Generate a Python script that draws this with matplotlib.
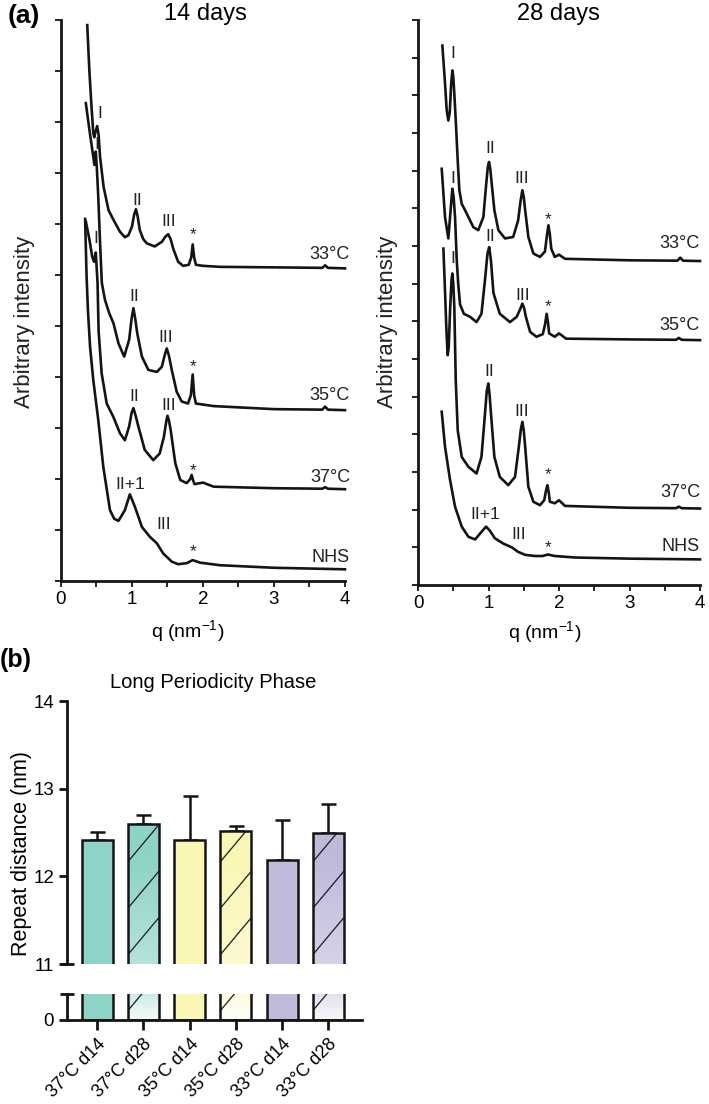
import numpy as np
import matplotlib
matplotlib.use('Agg')
import matplotlib.pyplot as plt
from matplotlib.collections import LineCollection
from matplotlib.patches import Rectangle

plt.rcParams['font.family'] = ['Liberation Sans', 'DejaVu Sans']
plt.rcParams['mathtext.fontset'] = 'custom'
plt.rcParams['mathtext.rm'] = 'Liberation Sans'
plt.rcParams['mathtext.it'] = 'Liberation Sans:italic'

# ---- (a) SAXS profiles, 14 days (offset intensities, arbitrary units) ----
q14_33 = [0.37, 0.40, 0.43, 0.455, 0.47, 0.485, 0.51, 0.53, 0.55, 0.60, 0.67, 0.74, 0.83, 0.90, 0.95,
          1.00, 1.03, 1.056, 1.08, 1.11, 1.16, 1.21, 1.32, 1.42, 1.47, 1.51, 1.545, 1.58, 1.65, 1.72,
          1.80, 1.835, 1.855, 1.875, 1.90, 2.00, 2.24, 3.00, 3.68, 3.72, 3.76, 4.00]
i14_33 = [10.9, 10.0, 9.3, 8.78, 8.70, 8.80, 8.92, 8.75, 8.32, 7.73, 7.27, 7.08, 6.85, 6.74, 6.78,
          6.95, 7.18, 7.29, 7.15, 6.88, 6.70, 6.62, 6.56, 6.65, 6.75, 6.80, 6.70, 6.52, 6.26, 6.18,
          6.20, 6.35, 6.60, 6.35, 6.20, 6.18, 6.16, 6.15, 6.14, 6.19, 6.14, 6.13]

q14_35 = [0.35, 0.40, 0.455, 0.47, 0.49, 0.505, 0.525, 0.55, 0.575, 0.62, 0.68, 0.74, 0.81, 0.89, 0.96,
          0.995, 1.02, 1.045, 1.075, 1.14, 1.23, 1.35, 1.42, 1.465, 1.49, 1.52, 1.56, 1.63, 1.70, 1.79,
          1.83, 1.855, 1.875, 1.90, 2.00, 2.15, 3.00, 3.68, 3.72, 3.76, 4.00]
i14_35 = [9.37, 8.85, 8.32, 8.16, 8.42, 8.10, 7.54, 6.65, 5.85, 5.51, 5.25, 5.05, 4.66, 4.40, 4.73,
          5.15, 5.35, 5.15, 4.85, 4.40, 4.14, 4.10, 4.20, 4.45, 4.56, 4.42, 4.14, 3.71, 3.52, 3.48,
          3.65, 4.05, 3.65, 3.48, 3.46, 3.43, 3.37, 3.36, 3.42, 3.36, 3.35]

q14_37 = [0.35, 0.40, 0.44, 0.465, 0.49, 0.50, 0.515, 0.53, 0.573, 0.644, 0.737, 0.83, 0.90, 0.96,
          0.995, 1.02, 1.05, 1.09, 1.18, 1.30, 1.39, 1.45, 1.485, 1.50, 1.52, 1.545, 1.61, 1.68, 1.77,
          1.82, 1.84, 1.86, 1.88, 2.00, 2.15, 3.00, 3.68, 3.72, 3.76, 4.00]
i14_37 = [7.05, 6.70, 6.36, 6.26, 6.44, 6.20, 5.85, 4.90, 4.07, 3.48, 3.22, 2.90, 2.76, 3.03,
          3.30, 3.39, 3.25, 3.03, 2.57, 2.37, 2.50, 2.83, 3.15, 3.24, 3.15, 2.96, 2.31, 1.98, 1.92,
          2.00, 2.08, 1.98, 1.90, 1.93, 1.85, 1.82, 1.81, 1.84, 1.81, 1.80]

q14_nhs = [0.34, 0.36, 0.38, 0.41, 0.455, 0.525, 0.596, 0.69, 0.75, 0.81, 0.90, 0.97, 1.04, 1.14,
           1.25, 1.35, 1.44, 1.56, 1.65, 1.77, 1.855, 1.96, 2.24, 3.00, 4.00]
i14_nhs = [7.10, 6.00, 5.30, 4.59, 3.94, 3.16, 2.24, 1.39, 1.22, 1.18, 1.39, 1.70, 1.46, 1.06,
           0.87, 0.74, 0.54, 0.38, 0.33, 0.35, 0.41, 0.36, 0.31, 0.26, 0.23]

# ---- (a) SAXS profiles, 28 days ----
q28_33 = [0.345, 0.38, 0.407, 0.43, 0.45, 0.47, 0.487, 0.50, 0.515, 0.54, 0.563, 0.586, 0.62, 0.667,
          0.714, 0.785, 0.855, 0.927, 0.965, 0.99, 1.007, 1.025, 1.045, 1.083, 1.14, 1.234, 1.35, 1.42,
          1.455, 1.48, 1.50, 1.52, 1.565, 1.636, 1.73, 1.80, 1.83, 1.85, 1.87, 1.89, 1.94, 2.00,
          2.085, 3.00, 3.68, 3.72, 3.76, 4.00]
i28_33 = [14.32, 13.4, 12.6, 12.33, 12.55, 13.3, 13.66, 13.5, 13.04, 12.16, 11.27, 10.48, 10.12, 9.95,
          9.77, 9.50, 9.42, 9.77, 10.6, 11.1, 11.23, 11.05, 10.66, 9.95, 9.42, 9.20, 9.24, 9.68,
          10.2, 10.48, 10.3, 9.95, 9.24, 8.80, 8.71, 8.85, 9.3, 9.55, 9.3, 8.93, 8.71, 8.77,
          8.66, 8.62, 8.61, 8.69, 8.61, 8.60]

q28_35 = [0.336, 0.383, 0.43, 0.46, 0.487, 0.505, 0.525, 0.55, 0.57, 0.596, 0.65, 0.738, 0.83, 0.90,
          0.95, 0.985, 1.01, 1.035, 1.07, 1.16, 1.305, 1.40, 1.455, 1.48, 1.505, 1.53, 1.59, 1.68,
          1.77, 1.80, 1.825, 1.845, 1.86, 1.94, 2.00, 2.10, 3.00, 3.66, 3.70, 3.74, 4.00]
i28_35 = [11.05, 9.77, 9.20, 9.90, 10.52, 10.3, 9.77, 8.6, 8.0, 7.45, 7.2, 7.12, 6.98, 7.2,
          8.1, 8.8, 8.97, 8.6, 7.75, 7.2, 6.98, 7.12, 7.35, 7.47, 7.35, 7.12, 6.72, 6.59,
          6.66, 6.9, 7.2, 6.95, 6.68, 6.59, 6.68, 6.54, 6.52, 6.51, 6.56, 6.51, 6.50]

q28_37 = [0.36, 0.383, 0.40, 0.42, 0.435, 0.455, 0.475, 0.487, 0.50, 0.515, 0.535, 0.563, 0.62, 0.714,
          0.83, 0.90, 0.95, 0.975, 0.997, 1.015, 1.035, 1.083, 1.16, 1.28, 1.376, 1.43, 1.46, 1.48,
          1.50, 1.52, 1.565, 1.636, 1.73, 1.79, 1.815, 1.835, 1.855, 1.87, 1.94, 2.00, 2.085, 3.00,
          3.66, 3.70, 3.74, 4.00]
i28_37 = [8.93, 7.8, 6.9, 6.1, 6.3, 7.3, 8.1, 8.27, 8.0, 7.38, 5.44, 4.11, 3.40, 3.14,
          2.96, 3.40, 4.55, 5.15, 5.35, 5.05, 4.55, 3.40, 2.87, 2.65, 2.87, 3.67, 4.15, 4.33,
          4.1, 3.67, 2.61, 2.21, 2.12, 2.25, 2.5, 2.65, 2.45, 2.21, 2.17, 2.25, 2.10, 2.05,
          2.04, 2.08, 2.04, 2.03]

q28_nhs = [0.336, 0.383, 0.454, 0.525, 0.62, 0.714, 0.81, 0.90, 0.965, 1.02, 1.09, 1.21, 1.33, 1.42,
           1.52, 1.66, 1.77, 1.84, 1.94, 2.23, 3.00, 4.00]
i28_nhs = [4.60, 3.67, 2.79, 2.08, 1.55, 1.28, 1.21, 1.41, 1.55, 1.44, 1.24, 1.10, 1.00, 0.88,
           0.80, 0.77, 0.77, 0.81, 0.77, 0.73, 0.70, 0.68]

# peak annotations: (text, q, intensity)
peaks14 = [('I', 0.54, 9.17), ('II', 1.08, 7.47), ('III', 1.51, 7.05), ('*', 1.86, 6.80),
           ('I', 0.50, 8.55), ('II', 1.03, 5.57), ('III', 1.48, 4.78), ('*', 1.855, 4.20),
           ('I', 0.49, 6.72), ('II', 1.03, 3.61), ('III', 1.51, 3.45), ('*', 1.855, 2.17),
           ('II+1', 0.97, 1.90), ('III', 1.44, 1.10), ('*', 1.855, 0.58)]
peaks28 = [('I', 0.487, 14.1), ('II', 1.02, 11.58), ('III', 1.47, 10.79), ('*', 1.85, 9.69),
           ('I', 0.487, 10.79), ('II', 1.02, 9.24), ('III', 1.48, 7.69), ('*', 1.85, 7.39),
           ('I', 0.487, 8.67), ('II', 1.01, 5.66), ('III', 1.47, 4.60), ('*', 1.84, 2.93),
           ('II+1', 0.95, 1.86), ('III', 1.43, 1.34), ('*', 1.84, 0.99)]
temps14 = [('33°C', 6.41), ('35°C', 3.63), ('37°C', 2.03), ('NHS', 0.46)]
temps28 = [('33°C', 9.07), ('35°C', 6.90), ('37°C', 2.45), ('NHS', 1.02)]

# ---- (b) long periodicity phase repeat distance ----
groups = ['37°C d14', '37°C d28', '35°C d14', '35°C d28', '33°C d14', '33°C d28']
repeat_mean = [12.42, 12.60, 12.41, 12.52, 12.19, 12.50]
repeat_err = [0.09, 0.10, 0.51, 0.05, 0.45, 0.32]
bar_colors = ['#8dd3c7', '#8dd3c7', '#faf7b4', '#faf7b4', '#bebada', '#bebada']
hatched = [False, True, False, True, False, True]

LINE = '#141414'


def setup_saxs(ax, ymax):
    ax.set_xlim(0, 4)
    ax.set_ylim(0, ymax)
    for s in ['top', 'right']:
        ax.spines[s].set_visible(False)
    for s in ['left', 'bottom']:
        ax.spines[s].set_linewidth(2.0)
        ax.spines[s].set_color(LINE)
    ax.set_xticks(np.arange(0, 4.01, 0.5))
    ax.set_xticklabels(['0', '', '1', '', '2', '', '3', '', '4'])
    ax.set_yticks(np.arange(0, ymax + 1))
    ax.set_yticklabels([])
    ax.tick_params(length=4, width=1.3, labelsize=13.5, pad=3, color=LINE)
    ax.patch.set_alpha(0)


fig = plt.figure(figsize=(7.09, 11.04), dpi=100)

ax1 = fig.add_axes([0.0860, 0.4737, 0.4006, 0.5082])
ax2 = fig.add_axes([0.5896, 0.4701, 0.3977, 0.5118])
setup_saxs(ax1, 11)
setup_saxs(ax2, 15)

for q, i in [(q14_33, i14_33), (q14_35, i14_35), (q14_37, i14_37), (q14_nhs, i14_nhs)]:
    ax1.plot(q, i, color=LINE, lw=1.9, solid_joinstyle='round', clip_on=False)
for q, i in [(q28_33, i28_33), (q28_35, i28_35), (q28_37, i28_37), (q28_nhs, i28_nhs)]:
    ax2.plot(q, i, color=LINE, lw=1.9, solid_joinstyle='round', clip_on=False)

for ax, peaks, temps, xr in [(ax1, peaks14, temps14, 4.07), (ax2, peaks28, temps28, 4.0)]:
    for txt, q, y in peaks:
        ax.text(q, y, txt, ha='center', va='center', fontsize=12.5, color='#222222')
    for txt, y in temps:
        ax.text(xr, y, txt, ha='right', va='center', fontsize=13, color='#222222', clip_on=False)

ax1.set_ylabel('Arbitrary intensity', fontsize=16, color='#222222')
ax1.yaxis.set_label_coords(-0.0915, 0.4626)
ax2.set_ylabel('Arbitrary intensity', fontsize=16, color='#222222')
ax2.yaxis.set_label_coords(-0.071, 0.466)
ax1.text(0.447, -0.09, r'q (nm$^{-1}$)', transform=ax1.transAxes, ha='center', va='center', fontsize=14)
ax2.text(0.45, -0.083, r'q (nm$^{-1}$)', transform=ax2.transAxes, ha='center', va='center', fontsize=14)

fig.text(205 / 709, 1 - 14 / 1104, '14 days', ha='center', va='center', fontsize=17)
fig.text(558 / 709, 1 - 14 / 1104, '28 days', ha='center', va='center', fontsize=17)
fig.text(24 / 709, 1 - 16 / 1104, '(a)', ha='center', va='center', fontsize=19, fontweight='bold')

# ---- (b) broken-axis bar chart ----
axt = fig.add_axes([0.0941, 0.1268, 0.4161, 0.2382])
axb = fig.add_axes([0.0941, 0.0761, 0.4161, 0.0233])
x = np.arange(len(groups))
width = 0.67
slope = 0.63      # hatch slope in data units
spacing = 0.53    # hatch spacing in data units

for ax, (ylo, yhi) in [(axt, (11, 14)), (axb, (0, 0.293))]:
    ax.bar(x, repeat_mean, width=width, color=bar_colors, edgecolor='none', zorder=2)
    for k in range(len(groups)):
        if not hatched[k]:
            continue
        x0 = x[k] - width / 2
        x1 = x[k] + width / 2
        top = min(repeat_mean[k], yhi)
        # visible part of the bar inside this axis, used as clip region
        clip = Rectangle((x0, ylo), width, top - ylo, transform=ax.transData)
        # light fade towards the bottom of the hatched bars
        v = np.linspace(ylo, yhi, 120)
        if ax is axt:
            t = 0.35 * np.clip((12.2 - v) / 1.2, 0, 1)
        else:
            t = 0.55 + 0.37 * (yhi - v) / (yhi - ylo)
        c = np.array(matplotlib.colors.to_rgb(bar_colors[k]))
        img = (1 - t)[:, None] * c[None, :] + t[:, None] * np.ones(3)[None, :]
        im = ax.imshow(img[:, None, :], extent=[x0, x1, ylo, yhi], origin='lower',
                       aspect='auto', interpolation='bilinear', zorder=2.05)
        im.set_clip_path(clip)
        starts = np.arange(ylo - slope * width - spacing, yhi + spacing, spacing)
        segs = [[(x0, s), (x1, s + slope * width)] for s in starts]
        lc = LineCollection(segs, colors='#1a1a1a', linewidths=0.9, zorder=2.1)
        ax.add_collection(lc)
        lc.set_clip_path(clip)
    ax.bar(x, repeat_mean, width=width, fill=False, edgecolor=LINE, linewidth=1.8, zorder=2.5)
    ax.set_xlim(-0.66, 5.72)
    ax.set_ylim(ylo, yhi)
    ax.spines['top'].set_visible(False)
    ax.spines['right'].set_visible(False)
    for s in ['left', 'bottom']:
        ax.spines[s].set_linewidth(2.0)
        ax.spines[s].set_color(LINE)
    ax.tick_params(axis='y', length=6, width=2.0, labelsize=13.5, pad=3, color=LINE)

axt.errorbar(x, repeat_mean, yerr=[np.zeros(len(x)), repeat_err], fmt='none', ecolor=LINE,
             elinewidth=1.8, capsize=5.4, capthick=1.8, zorder=1.5)
axt.spines['bottom'].set_visible(False)
axt.set_xticks([])
axt.set_yticks([11, 12, 13, 14])
axb.set_yticks([0])
axb.set_xticks(x)
axb.set_xticklabels(groups, rotation=45, ha='right', va='top', rotation_mode='anchor', fontsize=13)
axb.tick_params(axis='x', length=7, width=2.0, pad=4, color=LINE)

# axis break marks
axt.plot([0], [0], transform=axt.transAxes, marker='_', ms=10, mew=2.0, color=LINE, clip_on=False)
axb.plot([0], [1], transform=axb.transAxes, marker='_', ms=10, mew=2.0, color=LINE, clip_on=False)

fig.text(213 / 709, 1 - 683 / 1104, 'Long Periodicity Phase', ha='center', va='center', fontsize=14.5)
fig.text(22 / 709, 1 - 854 / 1104, 'Repeat distance (nm)', rotation=90, ha='center', va='center',
         fontsize=15.5)
fig.text(16 / 709, 1 - 660 / 1104, '(b)', ha='center', va='center', fontsize=18, fontweight='bold')

fig.savefig('out.png', dpi=100)
